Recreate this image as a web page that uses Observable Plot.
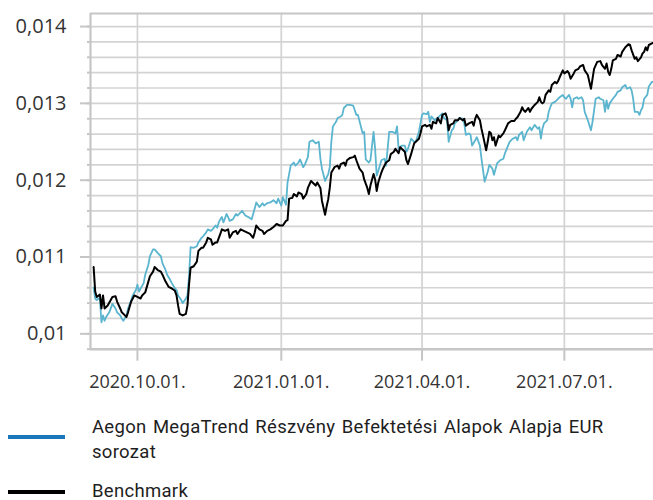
<!DOCTYPE html>
<html>
<head>
<meta charset="utf-8">
<script src="https://cdn.jsdelivr.net/npm/d3@7"></script>
<script src="https://cdn.jsdelivr.net/npm/@observablehq/plot@0.6"></script>
<style>
  html, body { margin: 0; padding: 0; background: #fff; overflow: hidden; }
  #wrap { position: relative; width: 653px; height: 500px; }
  #legend { position: absolute; left: 0; top: 400px; width: 653px; height: 100px; font-family: Roboto, sans-serif; color: #1e1e1e; }
  .sw { position: absolute; left: 8px; width: 57px; height: 4px; }
  .lt { position: absolute; left: 92px; width: 545px; font-size: 18.5px; letter-spacing: 0.3px; word-spacing: 1.5px; line-height: 25px; }
  g[aria-label="x-axis tick label"] { font-size: 18px !important; }
  g[aria-label="x-axis tick label"] text { font-size: 18px !important; }
  g[aria-label="y-axis tick label"] { font-size: 20px !important; }
</style>
</head>
<body>
<div id="wrap"><div id="chart"></div><div id="legend"></div></div>
<script>
const seriesNames = ["Aegon MegaTrend Részvény Befektetési Alapok Alapja EUR sorozat", "Benchmark"];
const seriesColors = ["#5bb5cf", "#000000"];
const legendColors = ["#1c76bb", "#000000"];

const fundDates = [
"2020-09-03","2020-09-04","2020-09-05","2020-09-06","2020-09-07","2020-09-08","2020-09-09","2020-09-10","2020-09-11","2020-09-13","2020-09-15","2020-09-17","2020-09-18","2020-09-20","2020-09-21","2020-09-22","2020-09-24","2020-09-25","2020-09-27","2020-09-28","2020-09-30",
"2020-10-01","2020-10-02","2020-10-03","2020-10-05","2020-10-06","2020-10-08","2020-10-09","2020-10-11","2020-10-12","2020-10-14","2020-10-16","2020-10-17","2020-10-19","2020-10-20","2020-10-22","2020-10-23","2020-10-25","2020-10-26","2020-10-27","2020-10-29","2020-10-30",
"2020-11-01","2020-11-02","2020-11-03","2020-11-04","2020-11-06","2020-11-08","2020-11-09","2020-11-11","2020-11-12","2020-11-14","2020-11-15","2020-11-17","2020-11-18","2020-11-20","2020-11-21","2020-11-22","2020-11-23","2020-11-24","2020-11-25","2020-11-27","2020-11-28","2020-11-29",
"2020-12-01","2020-12-03","2020-12-04","2020-12-06","2020-12-07","2020-12-09","2020-12-11","2020-12-13","2020-12-14","2020-12-15","2020-12-16","2020-12-18","2020-12-20","2020-12-21","2020-12-23","2020-12-25","2020-12-27","2020-12-29","2020-12-30",
"2021-01-01","2021-01-02","2021-01-04","2021-01-05","2021-01-07","2021-01-09","2021-01-10","2021-01-12","2021-01-13","2021-01-15","2021-01-16","2021-01-18","2021-01-19","2021-01-21","2021-01-23","2021-01-25","2021-01-26","2021-01-27","2021-01-29","2021-01-31",
"2021-02-01","2021-02-02","2021-02-03","2021-02-05","2021-02-06","2021-02-08","2021-02-09","2021-02-10","2021-02-12","2021-02-14","2021-02-16","2021-02-18","2021-02-19","2021-02-22","2021-02-23","2021-02-24","2021-02-26","2021-02-27",
"2021-03-01","2021-03-02","2021-03-03","2021-03-04","2021-03-06","2021-03-08","2021-03-09","2021-03-11","2021-03-13","2021-03-15","2021-03-16","2021-03-17","2021-03-19","2021-03-21","2021-03-22","2021-03-23","2021-03-25","2021-03-27","2021-03-28","2021-03-30",
"2021-04-01","2021-04-02","2021-04-04","2021-04-05","2021-04-06","2021-04-07","2021-04-09","2021-04-12","2021-04-14","2021-04-15","2021-04-17","2021-04-18","2021-04-20","2021-04-21","2021-04-22","2021-04-24","2021-04-25","2021-04-27","2021-04-28","2021-04-29",
"2021-05-01","2021-05-02","2021-05-03","2021-05-05","2021-05-06","2021-05-08","2021-05-09","2021-05-11","2021-05-13","2021-05-14","2021-05-16","2021-05-17","2021-05-19","2021-05-21","2021-05-23","2021-05-24","2021-05-26","2021-05-27","2021-05-29","2021-05-31",
"2021-06-01","2021-06-02","2021-06-04","2021-06-05","2021-06-07","2021-06-09","2021-06-10","2021-06-12","2021-06-14","2021-06-15","2021-06-16","2021-06-17","2021-06-18","2021-06-20","2021-06-21","2021-06-22","2021-06-23","2021-06-25","2021-06-26","2021-06-28","2021-06-30",
"2021-07-01","2021-07-02","2021-07-04","2021-07-05","2021-07-06","2021-07-07","2021-07-09","2021-07-10","2021-07-12","2021-07-13","2021-07-14","2021-07-16","2021-07-18","2021-07-19","2021-07-20","2021-07-21","2021-07-23","2021-07-24","2021-07-26","2021-07-27","2021-07-28","2021-07-29","2021-07-30",
"2021-08-01","2021-08-03","2021-08-04","2021-08-06","2021-08-07","2021-08-09","2021-08-10","2021-08-12","2021-08-13","2021-08-14","2021-08-15","2021-08-17","2021-08-18","2021-08-19","2021-08-20","2021-08-21","2021-08-23","2021-08-24","2021-08-26","2021-08-27"
];
const fundValues = [
0.0106,0.01046,0.01044,0.01046,0.01045,0.01015,0.01024,0.01017,0.01022,0.01028,0.01039,0.01033,0.01028,0.01024,0.0102,0.01017,0.01024,0.01033,0.01044,0.0105,0.01057,
0.01064,0.01055,0.01059,0.01066,0.01077,0.0109,0.01101,0.0111,0.0111,0.01105,0.01101,0.01092,0.01083,0.01077,0.0107,0.01066,0.01059,0.01057,0.0105,0.01044,0.0104,
0.01046,0.0105,0.01075,0.01113,0.01112,0.01114,0.01119,0.01125,0.01127,0.01132,0.01136,0.01134,0.01136,0.01141,0.01138,0.01145,0.01149,0.01152,0.01145,0.01156,0.01152,0.01147,
0.01149,0.01156,0.01154,0.01158,0.0116,0.01154,0.01152,0.01149,0.01156,0.01163,0.01171,0.01165,0.0117,0.01167,0.0117,0.01171,0.01174,0.0117,0.01176,
0.01167,0.01178,0.01168,0.01197,0.01219,0.01223,0.01219,0.01223,0.01227,0.01217,0.0122,0.0123,0.0125,0.01252,0.01248,0.0125,0.01228,0.01215,0.01199,0.01208,
0.01217,0.0125,0.0127,0.01276,0.01281,0.01283,0.01285,0.01294,0.01298,0.01298,0.01297,0.01285,0.01285,0.01261,0.01263,0.01227,0.01223,0.01226,
0.01263,0.01241,0.01206,0.01212,0.01226,0.01228,0.01219,0.01263,0.01263,0.01261,0.0127,0.01241,0.01245,0.01245,0.01237,0.01241,0.01254,0.0125,0.0125,0.01263,
0.01285,0.01287,0.01286,0.01289,0.01276,0.01283,0.01278,0.01283,0.01287,0.01281,0.01278,0.0125,0.01265,0.01267,0.01274,0.01278,0.01281,0.0128,0.01274,0.01259,
0.01261,0.01259,0.01245,0.01252,0.01256,0.01245,0.01228,0.01198,0.01211,0.0122,0.01215,0.01207,0.01222,0.01226,0.01228,0.01235,0.01245,0.0125,0.01254,0.01256,
0.01252,0.01259,0.01263,0.01252,0.01263,0.01269,0.01265,0.01272,0.01267,0.01269,0.01254,0.01267,0.01274,0.01278,0.01289,0.01295,0.013,0.01302,0.01304,0.01308,0.01311,
0.01308,0.01306,0.01311,0.01306,0.01295,0.01306,0.01308,0.01306,0.01308,0.01304,0.01289,0.01278,0.01265,0.01276,0.01291,0.01306,0.01308,0.01306,0.01304,0.01289,0.01304,0.01293,0.013,
0.01306,0.01311,0.01315,0.01317,0.01321,0.01324,0.01319,0.01321,0.01317,0.01306,0.01289,0.01289,0.01285,0.01291,0.01295,0.01306,0.01311,0.01322,0.01328,0.01328
];

const benchDates = [
"2020-09-03","2020-09-04","2020-09-05","2020-09-07","2020-09-08","2020-09-09","2020-09-10","2020-09-12","2020-09-15","2020-09-17","2020-09-18","2020-09-20","2020-09-21","2020-09-23","2020-09-24","2020-09-25","2020-09-27","2020-09-29",
"2020-10-01","2020-10-03","2020-10-04","2020-10-06","2020-10-08","2020-10-09","2020-10-11","2020-10-12","2020-10-14","2020-10-16","2020-10-17","2020-10-19","2020-10-21","2020-10-23","2020-10-25","2020-10-26","2020-10-27","2020-10-28","2020-10-30",
"2020-11-01","2020-11-02","2020-11-03","2020-11-04","2020-11-06","2020-11-08","2020-11-09","2020-11-11","2020-11-12","2020-11-14","2020-11-15","2020-11-17","2020-11-18","2020-11-20","2020-11-21","2020-11-23","2020-11-24","2020-11-26","2020-11-28","2020-11-29",
"2020-12-01","2020-12-03","2020-12-04","2020-12-06","2020-12-08","2020-12-10","2020-12-12","2020-12-14","2020-12-15","2020-12-16","2020-12-18","2020-12-20","2020-12-21","2020-12-23","2020-12-25","2020-12-27","2020-12-29","2020-12-31",
"2021-01-02","2021-01-04","2021-01-05","2021-01-06","2021-01-08","2021-01-09","2021-01-11","2021-01-12","2021-01-14","2021-01-15","2021-01-17","2021-01-18","2021-01-20","2021-01-21","2021-01-23","2021-01-24","2021-01-26","2021-01-27","2021-01-29","2021-01-30","2021-01-31",
"2021-02-01","2021-02-02","2021-02-04","2021-02-06","2021-02-07","2021-02-08","2021-02-10","2021-02-11","2021-02-12","2021-02-14","2021-02-16","2021-02-17","2021-02-18","2021-02-20","2021-02-22","2021-02-23","2021-02-25","2021-02-26","2021-02-27",
"2021-03-01","2021-03-02","2021-03-03","2021-03-04","2021-03-06","2021-03-07","2021-03-09","2021-03-11","2021-03-12","2021-03-14","2021-03-15","2021-03-17","2021-03-18","2021-03-20","2021-03-21","2021-03-22","2021-03-23","2021-03-25","2021-03-26","2021-03-27","2021-03-28","2021-03-30","2021-03-31",
"2021-04-01","2021-04-03","2021-04-04","2021-04-06","2021-04-07","2021-04-08","2021-04-10","2021-04-11","2021-04-13","2021-04-14","2021-04-16","2021-04-17","2021-04-18","2021-04-19","2021-04-21","2021-04-22","2021-04-24","2021-04-25","2021-04-27","2021-04-28","2021-04-29",
"2021-05-01","2021-05-03","2021-05-04","2021-05-05","2021-05-06","2021-05-08","2021-05-09","2021-05-10","2021-05-12","2021-05-13","2021-05-14","2021-05-15","2021-05-16","2021-05-17","2021-05-18","2021-05-20","2021-05-21","2021-05-23","2021-05-24","2021-05-26","2021-05-28","2021-05-30","2021-05-31",
"2021-06-01","2021-06-03","2021-06-04","2021-06-05","2021-06-06","2021-06-08","2021-06-09","2021-06-10","2021-06-12","2021-06-14","2021-06-15","2021-06-16","2021-06-17","2021-06-18","2021-06-19","2021-06-21","2021-06-22","2021-06-23","2021-06-25","2021-06-26","2021-06-27","2021-06-28","2021-06-30",
"2021-07-01","2021-07-03","2021-07-04","2021-07-05","2021-07-07","2021-07-08","2021-07-10","2021-07-11","2021-07-13","2021-07-14","2021-07-16","2021-07-17","2021-07-18","2021-07-19","2021-07-20","2021-07-22","2021-07-24","2021-07-25","2021-07-27","2021-07-28","2021-07-29","2021-07-30","2021-07-31",
"2021-08-01","2021-08-03","2021-08-04","2021-08-06","2021-08-07","2021-08-09","2021-08-11","2021-08-12","2021-08-13","2021-08-15","2021-08-16","2021-08-17","2021-08-19","2021-08-20","2021-08-21","2021-08-22","2021-08-23","2021-08-24","2021-08-26","2021-08-27"
];
const benchValues = [
0.01087,0.01055,0.01048,0.01051,0.01033,0.0105,0.01033,0.01037,0.01048,0.01049,0.01042,0.01033,0.01028,0.01024,0.01022,0.01028,0.01042,0.0105,
0.01048,0.01046,0.0105,0.01054,0.01068,0.01075,0.01081,0.01087,0.01083,0.01081,0.01077,0.01068,0.01061,0.01059,0.01056,0.0105,0.01037,0.01026,0.01024,
0.01026,0.01037,0.01064,0.01086,0.01088,0.01094,0.01108,0.01112,0.01112,0.01119,0.01125,0.01123,0.01116,0.01119,0.01119,0.0113,0.01136,0.01134,0.01136,0.01125,
0.01132,0.01134,0.0113,0.01136,0.01134,0.01132,0.0113,0.01125,0.01132,0.01141,0.01136,0.01134,0.0113,0.01134,0.01136,0.01139,0.01143,0.01141,
0.01141,0.01147,0.01148,0.01176,0.01177,0.01182,0.01179,0.01184,0.01182,0.01176,0.01182,0.0119,0.01199,0.01197,0.01193,0.01197,0.0119,0.01173,0.01155,0.01166,0.01175,
0.0119,0.0121,0.01217,0.01219,0.01215,0.01221,0.01223,0.01219,0.01226,0.01229,0.0123,0.01232,0.01226,0.01215,0.0121,0.01201,0.0119,0.01182,0.01193,
0.01208,0.01201,0.01186,0.01197,0.0121,0.01215,0.01223,0.01226,0.01234,0.01237,0.01241,0.01235,0.01243,0.01239,0.01237,0.01226,0.01221,0.01234,0.01241,0.01248,0.0125,0.01254,0.01261,
0.0127,0.01272,0.0127,0.01272,0.01267,0.01276,0.01274,0.01281,0.01274,0.01285,0.01287,0.01281,0.01265,0.01272,0.01274,0.01278,0.01278,0.01281,0.01278,0.0128,0.01271,
0.01274,0.01276,0.01271,0.0128,0.01285,0.01278,0.01267,0.01258,0.01239,0.0125,0.01263,0.01261,0.01252,0.01256,0.01245,0.01258,0.01256,0.01261,0.01265,0.01274,0.01277,0.01277,0.0128,
0.01282,0.01289,0.01295,0.01291,0.01289,0.01294,0.01289,0.01293,0.01298,0.01302,0.01308,0.01302,0.013,0.01302,0.01311,0.01317,0.01315,0.01324,0.01328,0.01326,0.01329,0.01334,0.01343,
0.01339,0.01342,0.01339,0.01332,0.01339,0.01343,0.01345,0.01348,0.0135,0.01343,0.01337,0.01328,0.01319,0.01332,0.01345,0.01354,0.01355,0.0135,0.01345,0.01352,0.01341,0.01337,0.01345,
0.01356,0.01358,0.01363,0.01361,0.01367,0.01373,0.01377,0.01376,0.01369,0.01358,0.0136,0.01355,0.0136,0.01365,0.01367,0.01373,0.01369,0.01376,0.01378,0.01379
];

const xDomain = ["2020-09-01", "2021-08-27"];
const yDomain = [0.0098, 0.01417];
const yTicks = [0.010, 0.011, 0.012, 0.013, 0.014];
const yTickLabels = ["0,01", "0,011", "0,012", "0,013", "0,014"];
const yGrid = [0.0098, 0.0100, 0.0102, 0.0104, 0.0106, 0.0108, 0.0110, 0.0112, 0.0114, 0.0116, 0.0118, 0.0120, 0.0122, 0.0124, 0.0126, 0.0128, 0.0130, 0.0132, 0.0134, 0.0136, 0.0138, 0.0140];
const xTicks = ["2020-10-01", "2021-01-01", "2021-04-01", "2021-07-01"];
const xTickLabels = ["2020.10.01.", "2021.01.01.", "2021.04.01.", "2021.07.01."];

const fund = fundDates.map((d, i) => ({date: new Date(d), value: fundValues[i]}));
const bench = benchDates.map((d, i) => ({date: new Date(d), value: benchValues[i]}));
const xTickDates = xTicks.map(d => new Date(d));
const xLabelMap = new Map(xTickDates.map((d, i) => [+d, xTickLabels[i]]));
const yLabelMap = new Map(yTicks.map((d, i) => [d, yTickLabels[i]]));

const gridColor = "#d3d3d3";
const axisColor = "#c6c6c6";

const chart = Plot.plot({
  width: 653,
  height: 400,
  marginLeft: 90,
  marginRight: 0,
  marginTop: 13,
  marginBottom: 51.3,
  style: {fontFamily: "'Open Sans', sans-serif", background: "white", overflow: "visible"},
  x: {type: "utc", domain: xDomain.map(d => new Date(d)), label: null},
  y: {domain: yDomain, label: null},
  marks: [
    Plot.ruleY(yGrid, {stroke: gridColor, strokeWidth: 1.7}),
    Plot.ruleX(xTickDates, {stroke: gridColor, strokeWidth: 1.7}),
    Plot.ruleY([yDomain[1]], {stroke: axisColor, strokeWidth: 2.2}),
    Plot.ruleY([yDomain[0]], {stroke: axisColor, strokeWidth: 2.6}),
    Plot.ruleX([new Date(xDomain[0])], {stroke: axisColor, strokeWidth: 2.2}),
    Plot.axisY(yGrid, {tickSize: 3, tickFormat: () => "", label: null, stroke: axisColor, strokeWidth: 2}),
    Plot.axisY(yTicks, {tickSize: 10, tickPadding: 14, tickFormat: d => yLabelMap.get(d), label: null, fontSize: 20, color: "#333", stroke: axisColor, strokeWidth: 2}),
    Plot.axisX(xTickDates, {tickSize: 12, tickPadding: 14, tickFormat: d => xLabelMap.get(+d), label: null, fontSize: 18, color: "#333", stroke: axisColor, strokeWidth: 2}),
    Plot.line(fund, {x: "date", y: "value", stroke: seriesColors[0], strokeWidth: 1.8}),
    Plot.line(bench, {x: "date", y: "value", stroke: seriesColors[1], strokeWidth: 2})
  ]
});
document.getElementById("chart").appendChild(chart);

const legend = document.getElementById("legend");
const rows = [{sw: 34.5, txt: 14.5}, {sw: 90, txt: 78.5}];
seriesNames.forEach((name, i) => {
  const sw = document.createElement("div");
  sw.className = "sw";
  sw.style.top = rows[i].sw + "px";
  sw.style.background = legendColors[i];
  legend.appendChild(sw);
  const t = document.createElement("div");
  t.className = "lt";
  t.style.top = rows[i].txt + "px";
  t.textContent = name;
  legend.appendChild(t);
});
</script>
</body>
</html>
